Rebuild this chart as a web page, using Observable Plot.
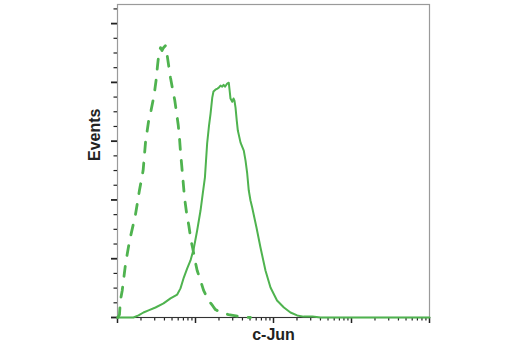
<!DOCTYPE html>
<html>
<head>
<meta charset="utf-8">
<script src="https://cdn.jsdelivr.net/npm/d3@7"></script>
<script src="https://cdn.jsdelivr.net/npm/@observablehq/plot@0.6"></script>
<style>
  html, body { margin: 0; padding: 0; background: #fff; }
  #chart { width: 520px; height: 350px; }
</style>
</head>
<body>
<div id="chart"></div>
<script>
// Isotype control (dashed) — fluorescence intensity vs events
const isoX = [1.01, 1.06, 1.09, 1.15, 1.27, 1.43, 1.70, 1.91, 2.13, 2.29, 2.52, 2.69, 2.94, 3.12, 3.26, 3.40, 3.56, 3.72, 3.89, 4.12, 4.34, 4.57, 4.78, 5.07, 5.43, 5.71, 6.00, 6.24, 6.42, 6.66, 6.92, 7.23, 7.67, 8.21, 8.76, 9.23, 9.86, 10.5, 11.6, 12.7, 14.7, 16.5, 18.0, 20.9, 26.5, 37.8, 50.7];
const isoY = [0, 1.0, 5.8, 9.2, 18.4, 26.2, 35.0, 43.2, 50.0, 59.8, 67.3, 70.4, 75.5, 80.6, 85.7, 90.1, 91.8, 90.8, 91.8, 92.5, 89.1, 85.0, 81.6, 77.9, 73.8, 69.7, 65.6, 60.9, 56.4, 51.7, 46.6, 40.8, 35.7, 31.3, 26.2, 23.5, 19.4, 16.0, 12.6, 9.2, 5.8, 4.1, 2.7, 1.7, 1.0, 0.3, 0];

// c-Jun stained (solid)
const junX = [1, 1.60, 1.86, 2.15, 2.50, 3.07, 3.89, 4.78, 5.83, 6.42, 7.08, 7.83, 8.63, 9.51, 10.5, 11.6, 12.4, 13.2, 14.1, 14.9, 15.6, 16.4, 17.0, 18.0, 19.1, 19.9, 20.9, 22.0, 22.9, 23.9, 25.5, 26.7, 27.4, 28.1, 29.6, 30.7, 31.6, 32.6, 33.8, 34.9, 37.8, 41.6, 43.8, 46.0, 48.2, 50.7, 53.3, 60.5, 68.1, 78.9, 91.5, 111, 136, 165, 201, 243, 316, 401, 10000];
const junY = [0, 0, 0.7, 1.7, 2.4, 3.4, 4.8, 6.5, 7.8, 9.9, 13.6, 16.7, 19.4, 23.5, 29.6, 36.4, 42.2, 47.6, 59.2, 65.3, 69.4, 74.8, 76.9, 77.5, 77.9, 78.2, 78.9, 78.5, 79.2, 78.5, 79.6, 79.9, 77.2, 74.5, 73.4, 74.5, 73.8, 71.4, 67.0, 63.6, 59.5, 56.8, 53.4, 49.0, 43.2, 39.8, 37.4, 30.6, 23.8, 16.0, 10.2, 5.8, 3.4, 1.7, 0.7, 0.3, 0.3, 0, 0];

// Axis ticks (no tick labels in the original)
const xMajorTicks = [1, 10, 100, 1000, 10000];
const xMinorTicks = [2, 3, 4, 5, 6, 7, 8, 9, 20, 30, 40, 50, 60, 70, 80, 90, 200, 300, 400, 500, 600, 700, 800, 900, 2000, 3000, 4000, 5000, 6000, 7000, 8000, 9000];
const yMajorTicks = [0, 20, 40, 60, 80, 100];
const yMinorTicks = [5, 10, 15, 25, 30, 35, 45, 50, 55, 65, 70, 75, 85, 90, 95, 105];

const xLabel = "c-Jun";
const yLabel = "Events";

const iso = isoX.map((x, i) => ({x, y: isoY[i]}));
const jun = junX.map((x, i) => ({x, y: junY[i]}));

const green = "#4fb34f";
const font = "Liberation Sans, Arial, Helvetica, sans-serif";

const chart = Plot.plot({
  width: 520,
  height: 350,
  marginLeft: 117,
  marginRight: 91,
  marginTop: 4,
  marginBottom: 33,
  style: {fontFamily: font, background: "#fff"},
  x: {type: "log", domain: [1, 10000]},
  y: {domain: [0, 106.5]},
  marks: [
    Plot.frame({stroke: "#9a9a9a", strokeWidth: 1.2}),
    Plot.axisX({ticks: xMajorTicks, tickSize: 6, tickFormat: () => "", label: null, stroke: "#222", strokeWidth: 1.5}),
    Plot.axisX({ticks: xMinorTicks, tickSize: 3.5, tickFormat: () => "", label: null, stroke: "#222", strokeWidth: 1.2}),
    Plot.axisY({ticks: yMajorTicks, tickSize: 6, tickFormat: () => "", label: null, stroke: "#222", strokeWidth: 1.8}),
    Plot.axisY({ticks: yMinorTicks, tickSize: 3.5, tickFormat: () => "", label: null, stroke: "#222", strokeWidth: 1.2}),
    Plot.ruleY([0], {stroke: "#333", strokeWidth: 1.2}),
    Plot.line(iso, {x: "x", y: "y", stroke: green, strokeWidth: 2.8, strokeDasharray: "10,11"}),
    Plot.line(jun, {x: "x", y: "y", stroke: green, strokeWidth: 2}),
    Plot.text([xLabel], {frameAnchor: "bottom", dy: 22, text: d => d, fontSize: 16, fontWeight: "bold", fill: "#222"}),
    Plot.text([yLabel], {frameAnchor: "left", dx: -22.5, rotate: -90, text: d => d, fontSize: 16, fontWeight: "bold", fill: "#222"})
  ]
});

document.getElementById("chart").appendChild(chart);
</script>
</body>
</html>
